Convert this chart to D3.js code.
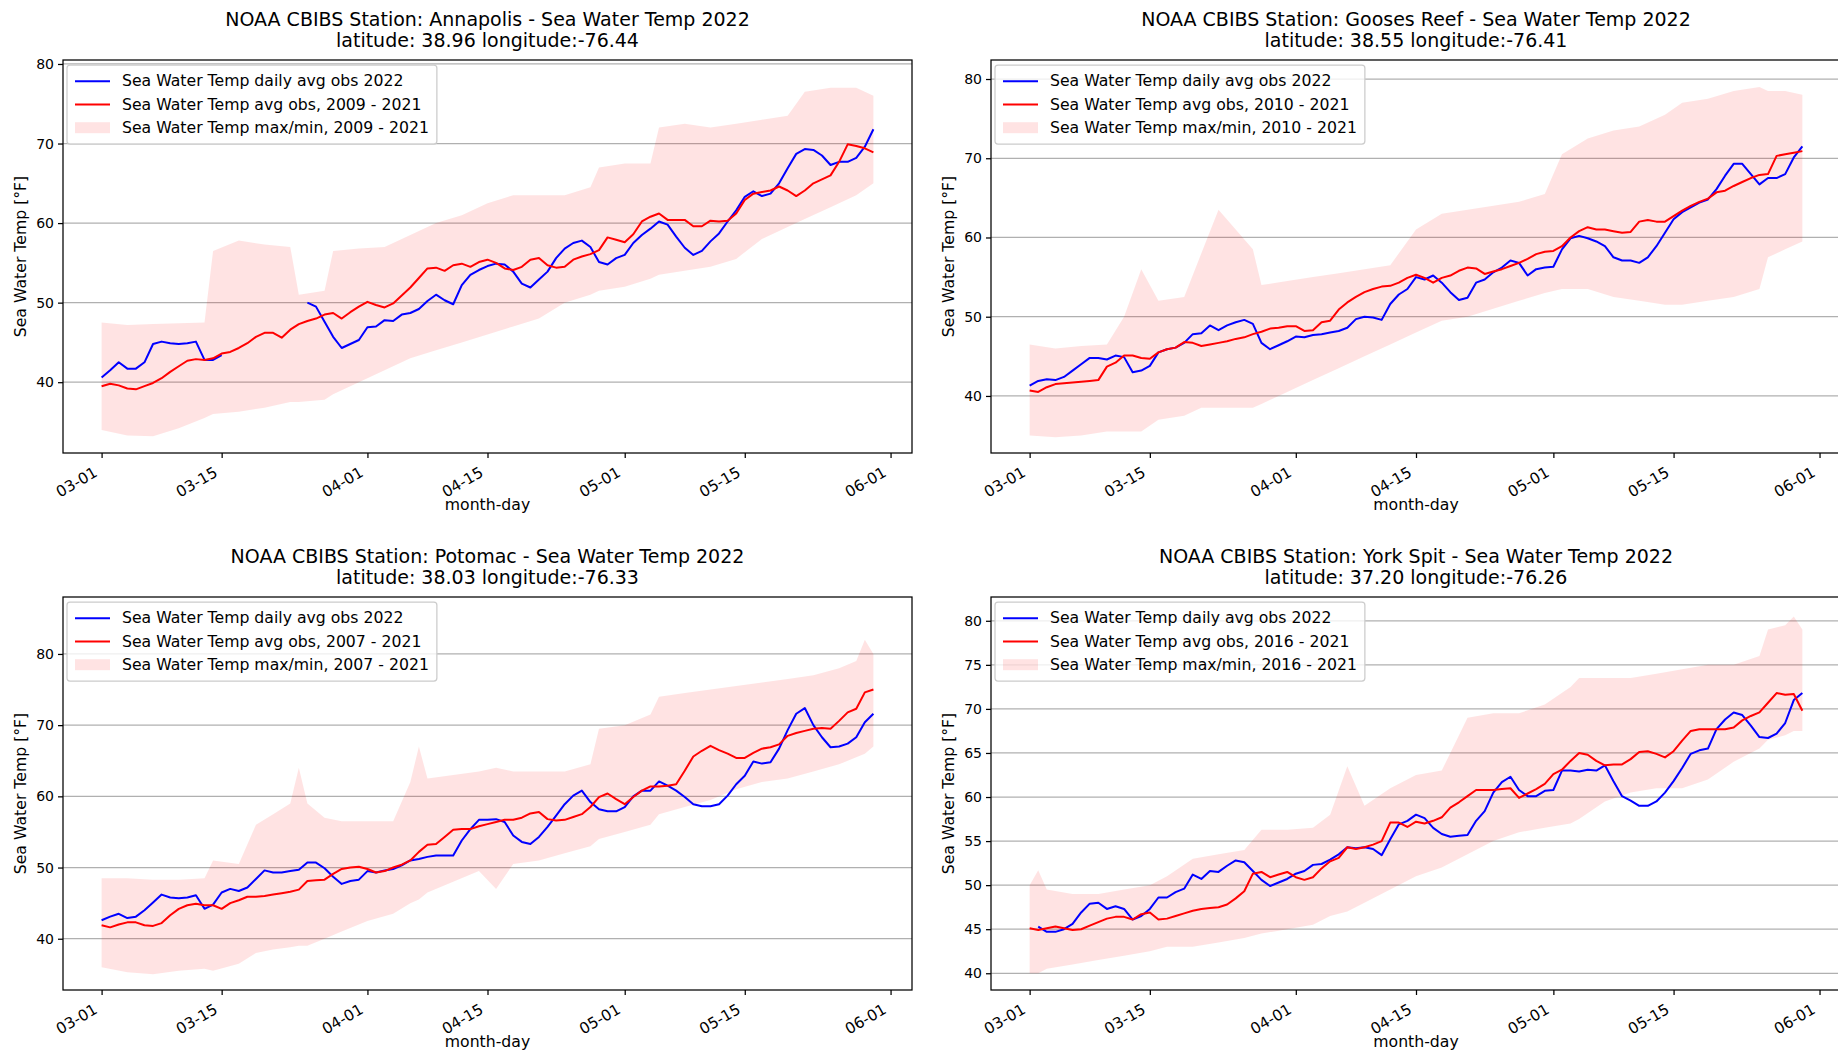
<!DOCTYPE html>
<html>
<head>
<meta charset="utf-8">
<script src="https://cdn.jsdelivr.net/npm/d3@7"></script>
<style>
  body { margin: 0; background: #fff; }
  svg { display: block; font-family: "DejaVu Sans", sans-serif; }
</style>
</head>
<body>
<div id="chart"></div>
<script>
// x categories: one value per day from 03-01 (index 0) to 05-30 (index 90)
const tickLabels = ["03-01", "03-15", "04-01", "04-15", "05-01", "05-15", "06-01"];

// ---- Annapolis ----
const annapolisObs = [
    40.6, 41.5, 42.5, 41.7, 41.7, 42.5, 44.8, 45.1, 44.9, 44.8,
    44.9, 45.1, 42.8, 42.8, 43.4, null, null, null, null, null,
    null, null, null, null, 50.0, 49.5, 47.6, 45.7, 44.3, 44.8,
    45.3, 46.9, 47.0, 47.8, 47.7, 48.5, 48.7, 49.2, 50.2, 51.0,
    50.3, 49.8, 52.2, 53.5, 54.1, 54.6, 54.9, 54.8, 53.9, 52.4,
    51.9, 52.9, 53.9, 55.6, 56.8, 57.5, 57.8, 57.0, 55.1, 54.8,
    55.6, 56.0, 57.5, 58.5, 59.3, 60.2, 59.8, 58.3, 56.9, 56.0,
    56.5, 57.7, 58.7, 60.2, 61.6, 63.3, 64.0, 63.4, 63.7, 65.0,
    66.9, 68.7, 69.3, 69.2, 68.5, 67.3, 67.7, 67.7, 68.2, 69.6,
    71.8
];
const annapolisAvg = [
    39.5, 39.8, 39.6, 39.2, 39.1, 39.5, 39.9, 40.5, 41.3, 42.0,
    42.7, 42.9, 42.8, 43.0, 43.6, 43.8, 44.3, 44.9, 45.7, 46.2,
    46.2, 45.6, 46.6, 47.3, 47.7, 48.0, 48.5, 48.7, 48.0, 48.8,
    49.5, 50.1, 49.7, 49.4, 49.9, 50.9, 51.9, 53.1, 54.3, 54.4,
    54.0, 54.7, 54.9, 54.5, 55.1, 55.4, 55.0, 54.3, 54.1, 54.5,
    55.4, 55.6, 54.7, 54.4, 54.5, 55.4, 55.8, 56.1, 56.6, 58.2,
    57.9, 57.6, 58.6, 60.2, 60.8, 61.2, 60.4, 60.4, 60.4, 59.6,
    59.6, 60.3, 60.2, 60.3, 61.2, 62.9, 63.7, 63.9, 64.1, 64.6,
    64.1, 63.4, 64.1, 65.0, 65.5, 66.0, 67.7, 69.9, 69.7, 69.4,
    68.9
];
// [day, min, max]
const annapolisBand = [
    [0, 34.0, 47.5], [3, 33.3, 47.2], [6, 33.2, 47.3], [9, 34.2, 47.4], [12, 35.5, 47.5],
    [13, 36.0, 56.5], [16, 36.3, 57.8], [19, 36.8, 57.3], [22, 37.5, 57.0], [23, 37.5, 51.0],
    [26, 37.8, 51.5], [27, 38.5, 56.5], [30, 40.0, 56.8], [33, 41.5, 57.0], [36, 43.0, 58.5],
    [39, 44.0, 60.0], [42, 45.0, 61.0], [45, 46.0, 62.5], [48, 47.0, 63.5], [51, 48.0, 63.5],
    [54, 50.0, 63.5], [57, 51.0, 64.5], [58, 51.5, 67.0], [61, 52.0, 67.5], [64, 53.0, 67.5],
    [65, 53.5, 72.0], [68, 54.0, 72.5], [71, 54.5, 72.0], [74, 55.5, 72.5], [77, 58.0, 73.0],
    [80, 59.5, 73.5], [82, 60.5, 76.5], [85, 62.0, 77.0], [88, 63.5, 77.0], [90, 65.0, 76.0]
];

// ---- Gooses Reef ----
const goosesObs = [
    41.3, 41.9, 42.1, 42.0, 42.4, 43.2, 44.0, 44.8, 44.8, 44.6,
    45.1, 44.9, 43.0, 43.2, 43.8, 45.5, 45.9, 46.1, 46.7, 47.8,
    47.9, 48.9, 48.3, 48.9, 49.3, 49.6, 49.1, 46.7, 45.9, 46.4,
    46.9, 47.5, 47.4, 47.7, 47.8, 48.0, 48.2, 48.6, 49.7, 50.0,
    49.9, 49.6, 51.6, 52.8, 53.5, 55.0, 54.7, 55.2, 54.3, 53.1,
    52.1, 52.4, 54.3, 54.7, 55.6, 56.2, 57.1, 56.8, 55.2, 56.0,
    56.2, 56.3, 58.5, 59.9, 60.2, 59.9, 59.5, 58.9, 57.5, 57.1,
    57.1, 56.8, 57.5, 58.9, 60.6, 62.3, 63.2, 63.8, 64.4, 64.8,
    66.1, 67.8, 69.3, 69.3, 68.0, 66.7, 67.5, 67.5, 68.0, 70.1,
    71.5
];
const goosesAvg = [
    40.7, 40.5, 41.1, 41.5, 41.6, 41.7, 41.8, 41.9, 42.0, 43.7,
    44.2, 45.1, 45.1, 44.8, 44.7, 45.5, 45.9, 46.1, 46.8, 46.7,
    46.3, 46.5, 46.7, 46.9, 47.2, 47.4, 47.8, 48.1, 48.5, 48.6,
    48.8, 48.8, 48.2, 48.3, 49.3, 49.5, 50.9, 51.8, 52.5, 53.1,
    53.5, 53.8, 53.9, 54.3, 54.9, 55.3, 54.9, 54.3, 54.9, 55.2,
    55.8, 56.2, 56.1, 55.4, 55.7, 56.0, 56.4, 56.8, 57.3, 57.9,
    58.2, 58.3, 58.9, 60.0, 60.8, 61.3, 61.0, 61.0, 60.8, 60.6,
    60.7, 62.0, 62.2, 62.0, 62.0, 62.7, 63.4, 64.0, 64.5, 64.9,
    65.7, 65.9, 66.5, 67.0, 67.5, 67.9, 68.0, 70.3, 70.5, 70.7,
    70.9
];
const goosesBand = [
    [0, 35.0, 46.5], [3, 34.8, 46.0], [6, 35.0, 46.3], [9, 35.5, 46.5], [11, 35.5, 50.0],
    [13, 35.5, 56.0], [15, 37.0, 52.0], [18, 37.5, 52.5], [20, 38.5, 58.0], [22, 38.5, 63.5],
    [24, 38.5, 61.0], [26, 38.5, 58.5], [27, 39.0, 54.0], [30, 40.5, 54.5], [33, 42.0, 55.0],
    [36, 43.5, 55.5], [39, 45.0, 56.0], [42, 46.5, 56.5], [45, 48.0, 61.0], [48, 49.5, 63.0],
    [51, 50.0, 63.5], [54, 51.0, 64.0], [57, 52.0, 64.5], [60, 53.0, 65.5], [62, 53.5, 70.5],
    [65, 53.5, 72.5], [68, 52.5, 73.5], [71, 52.0, 74.0], [74, 51.5, 75.5], [76, 51.5, 77.0],
    [79, 52.0, 77.5], [82, 52.5, 78.5], [85, 53.5, 79.0], [86, 57.5, 78.5], [88, 58.5, 78.5],
    [90, 59.5, 78.0]
];

// ---- Potomac ----
const potomacObs = [
    42.6, 43.1, 43.5, 42.9, 43.1, 44.0, 45.1, 46.2, 45.8, 45.7,
    45.8, 46.1, 44.2, 44.8, 46.5, 47.0, 46.7, 47.2, 48.4, 49.6,
    49.3, 49.3, 49.5, 49.7, 50.7, 50.7, 49.9, 48.7, 47.7, 48.1,
    48.3, 49.5, 49.3, 49.6, 49.8, 50.3, 51.0, 51.2, 51.5, 51.7,
    51.7, 51.7, 53.8, 55.4, 56.7, 56.7, 56.8, 56.4, 54.5, 53.6,
    53.3, 54.3, 55.7, 57.3, 58.9, 60.1, 60.8, 59.2, 58.2, 57.9,
    57.9, 58.5, 60.0, 60.8, 60.8, 62.1, 61.5, 60.8, 59.9, 58.9,
    58.6, 58.6, 58.9, 60.1, 61.7, 62.9, 64.9, 64.6, 64.8, 66.7,
    69.3, 71.6, 72.4, 70.0, 68.3, 66.9, 67.0, 67.4, 68.3, 70.4,
    71.6
];
const potomacAvg = [
    41.9, 41.6, 42.0, 42.3, 42.3, 41.9, 41.8, 42.2, 43.3, 44.2,
    44.7, 44.9, 44.7, 44.7, 44.2, 45.0, 45.4, 45.9, 45.9, 46.0,
    46.2, 46.4, 46.6, 46.9, 48.1, 48.2, 48.3, 49.1, 49.8, 50.0,
    50.1, 49.8, 49.3, 49.5, 50.0, 50.4, 51.0, 52.2, 53.2, 53.3,
    54.3, 55.3, 55.4, 55.4, 55.8, 56.1, 56.4, 56.7, 56.7, 57.0,
    57.6, 57.8, 56.8, 56.6, 56.7, 57.1, 57.5, 58.5, 59.9, 60.4,
    59.6, 58.9, 59.9, 60.8, 61.4, 61.4, 61.5, 61.7, 63.6, 65.6,
    66.4, 67.1, 66.5, 66.0, 65.4, 65.4, 66.1, 66.7, 66.9, 67.3,
    68.5, 68.9, 69.2, 69.5, 69.6, 69.5, 70.6, 71.8, 72.3, 74.6,
    75.0
];
const potomacBand = [
    [0, 36.0, 48.5], [3, 35.3, 48.5], [6, 35.0, 48.3], [9, 35.5, 48.3], [12, 35.8, 48.5],
    [13, 35.5, 51.0], [16, 36.5, 50.5], [18, 38.0, 56.0], [20, 38.5, 57.5], [22, 38.8, 59.0],
    [23, 39.0, 64.0], [24, 39.0, 59.0], [26, 40.0, 57.0], [28, 41.0, 56.5], [31, 42.5, 56.5],
    [34, 43.5, 56.5], [36, 45.0, 62.0], [37, 45.5, 67.0], [38, 46.5, 62.5], [41, 48.0, 63.0],
    [44, 49.5, 63.5], [46, 47.0, 64.0], [48, 50.5, 63.5], [51, 51.0, 63.5], [54, 52.0, 63.5],
    [57, 53.0, 64.5], [58, 54.0, 69.5], [61, 55.0, 70.0], [64, 56.0, 71.5], [65, 57.5, 74.0],
    [68, 58.5, 74.5], [71, 59.5, 75.0], [74, 61.0, 75.5], [77, 62.0, 76.0], [80, 62.5, 76.5],
    [83, 63.5, 77.0], [86, 64.5, 78.0], [88, 65.5, 79.0], [89, 66.0, 82.0], [90, 67.0, 80.0]
];

// ---- York Spit ----
const yorkObs = [
    null, 45.3, 44.7, 44.7, 45.0, 45.6, 46.9, 47.9, 48.0, 47.3,
    47.6, 47.3, 46.1, 46.5, 47.3, 48.6, 48.6, 49.2, 49.6, 51.2,
    50.7, 51.6, 51.5, 52.2, 52.8, 52.6, 51.6, 50.6, 49.9, 50.3,
    50.7, 51.3, 51.6, 52.3, 52.4, 52.9, 53.5, 54.3, 54.2, 54.3,
    54.1, 53.4, 55.2, 56.9, 57.3, 58.0, 57.6, 56.5, 55.8, 55.5,
    55.6, 55.7, 57.3, 58.4, 60.5, 61.7, 62.3, 60.8, 60.1, 60.1,
    60.7, 60.8, 63.0, 63.0, 62.9, 63.1, 63.0, 63.6, 61.8, 60.1,
    59.6, 59.0, 59.0, 59.5, 60.5, 61.8, 63.3, 64.9, 65.3, 65.5,
    67.7, 68.8, 69.6, 69.3, 68.1, 66.8, 66.7, 67.2, 68.4, 71.0,
    71.8
];
const yorkAvg = [
    45.1, 44.9, 45.1, 45.3, 45.1, 44.9, 45.0, 45.4, 45.8, 46.2,
    46.4, 46.4, 46.1, 46.7, 46.9, 46.1, 46.2, 46.5, 46.8, 47.1,
    47.3, 47.4, 47.5, 47.8, 48.5, 49.3, 51.3, 51.5, 50.9, 51.2,
    51.5, 50.9, 50.6, 50.9, 51.9, 52.7, 53.1, 54.3, 54.1, 54.3,
    54.6, 55.0, 57.1, 57.1, 56.6, 57.2, 57.0, 57.3, 57.7, 58.8,
    59.4, 60.1, 60.8, 60.8, 60.8, 60.9, 61.0, 59.9, 60.4, 60.9,
    61.5, 62.6, 63.1, 64.1, 65.0, 64.8, 64.1, 63.6, 63.7, 63.7,
    64.3, 65.1, 65.2, 64.9, 64.5, 65.2, 66.4, 67.5, 67.7, 67.7,
    67.7, 67.7, 67.9, 68.7, 69.2, 69.6, 70.7, 71.8, 71.6, 71.7,
    69.8
];
const yorkBand = [
    [0, 40.0, 50.0], [1, 40.0, 51.7], [2, 40.5, 49.5], [5, 41.0, 49.0], [8, 41.5, 49.0],
    [11, 42.0, 49.5], [14, 42.5, 50.0], [16, 43.0, 51.0], [19, 43.0, 53.0], [22, 43.5, 53.5],
    [25, 44.0, 54.0], [27, 44.5, 56.3], [30, 45.0, 56.3], [33, 45.5, 56.5], [35, 46.5, 58.0],
    [37, 47.0, 63.5], [39, 48.0, 59.0], [42, 49.5, 61.0], [45, 51.0, 62.5], [48, 52.0, 63.0],
    [51, 53.5, 69.0], [54, 55.0, 69.5], [57, 56.0, 69.5], [60, 56.5, 70.5], [63, 57.0, 72.5],
    [64, 57.5, 73.5], [67, 59.5, 73.5], [70, 60.5, 73.5], [73, 61.0, 74.0], [76, 61.0, 74.5],
    [79, 62.0, 75.0], [82, 64.0, 75.0], [85, 65.5, 76.0], [86, 66.5, 79.0], [88, 67.0, 79.5],
    [89, 67.5, 80.5], [90, 67.5, 79.0]
];

const ticks10 = [40, 50, 60, 70, 80];
const ticks5 = [40, 45, 50, 55, 60, 65, 70, 75, 80];

const stations = [
    { name: "Annapolis", lat: "38.96", lon: "-76.44", years: "2009 - 2021",
      obs: annapolisObs, avg: annapolisAvg, band: annapolisBand, yDomain: [31.1, 80.5], yTicks: ticks10 },
    { name: "Gooses Reef", lat: "38.55", lon: "-76.41", years: "2010 - 2021",
      obs: goosesObs, avg: goosesAvg, band: goosesBand, yDomain: [32.8, 82.4], yTicks: ticks10 },
    { name: "Potomac", lat: "38.03", lon: "-76.33", years: "2007 - 2021",
      obs: potomacObs, avg: potomacAvg, band: potomacBand, yDomain: [32.8, 88.0], yTicks: ticks10 },
    { name: "York Spit", lat: "37.20", lon: "-76.26", years: "2016 - 2021",
      obs: yorkObs, avg: yorkAvg, band: yorkBand, yDomain: [38.1, 82.7], yTicks: ticks5 }
];

// layout
const width = 1838;
const height = 1052;
const colLeft = [63, 991];
const colWidth = [849, 850];
const rowTop = [60, 597];
const rowHeight = 393;
const bandOpacity = 0.11;

const startDate = new Date(Date.UTC(2022, 2, 1));
const tickDates = tickLabels.map(t => new Date(Date.UTC(2022, +t.slice(0, 2) - 1, +t.slice(3))));
const dayDate = i => d3.utcDay.offset(startDate, i);

const svg = d3.select("#chart")
    .append("svg")
    .attr("width", width)
    .attr("height", height)
    .attr("viewBox", `0 0 ${width} ${height}`);

svg.append("rect").attr("width", width).attr("height", height).attr("fill", "#fff");

const drawPanel = (st, box) => {
    const xScale = d3.scaleUtc()
        .domain([d3.utcHour.offset(startDate, -4.5 * 24), d3.utcHour.offset(startDate, 94.5 * 24)])
        .range([box.left, box.left + box.width]);
    const yScale = d3.scaleLinear()
        .domain(st.yDomain)
        .range([box.top + box.height, box.top]);

    const g = svg.append("g");

    // grid (y only)
    g.append("g")
        .selectAll("line")
        .data(st.yTicks)
        .join("line")
            .attr("x1", box.left)
            .attr("x2", box.left + box.width)
            .attr("y1", d => yScale(d))
            .attr("y2", d => yScale(d))
            .attr("stroke", "#b0b0b0")
            .attr("stroke-width", 1.25);

    // max/min band
    const area = d3.area()
        .x(d => xScale(dayDate(d[0])))
        .y0(d => yScale(d[1]))
        .y1(d => yScale(d[2]));
    g.append("path")
        .datum(st.band)
        .attr("d", area)
        .attr("fill", "#ff0000")
        .attr("fill-opacity", bandOpacity);

    const lineGenerator = d3.line()
        .defined(d => d[1] != null)
        .x(d => xScale(dayDate(d[0])))
        .y(d => yScale(d[1]));

    g.append("path")
        .datum(st.obs.map((v, i) => [i, v]))
        .attr("d", lineGenerator)
        .attr("fill", "none")
        .attr("stroke", "#0000ff")
        .attr("stroke-width", 2)
        .attr("stroke-linejoin", "round");

    g.append("path")
        .datum(st.avg.map((v, i) => [i, v]))
        .attr("d", lineGenerator)
        .attr("fill", "none")
        .attr("stroke", "#ff0000")
        .attr("stroke-width", 2)
        .attr("stroke-linejoin", "round");

    // axes
    const leftAxis = d3.axisLeft(yScale).tickValues(st.yTicks).tickSize(5).tickPadding(4);
    const ya = g.append("g")
        .attr("transform", `translate(${box.left},0)`)
        .call(leftAxis);
    ya.select(".domain").remove();
    ya.attr("font-family", null).attr("font-size", null);
    ya.selectAll("line").attr("stroke", "#000").attr("stroke-width", 1.25);
    ya.selectAll("text").attr("fill", "#000").style("font-size", "14px");

    const bottomAxis = d3.axisBottom(xScale)
        .tickValues(tickDates)
        .tickFormat(d3.utcFormat("%m-%d"))
        .tickSize(5);
    const xa = g.append("g")
        .attr("transform", `translate(0,${box.top + box.height})`)
        .call(bottomAxis);
    xa.select(".domain").remove();
    xa.attr("font-family", null).attr("font-size", null);
    xa.selectAll("line").attr("stroke", "#000").attr("stroke-width", 1.25);
    xa.selectAll("text")
        .attr("fill", "#000")
        .style("font-size", "15.3px")
        .attr("text-anchor", "end")
        .attr("y", 0)
        .attr("dy", "0.71em")
        .attr("transform", "translate(-9,13) rotate(-30)");

    // spines
    g.append("rect")
        .attr("x", box.left)
        .attr("y", box.top)
        .attr("width", box.width)
        .attr("height", box.height)
        .attr("fill", "none")
        .attr("stroke", "#000")
        .attr("stroke-width", 1.25);

    // titles
    const cx = box.left + box.width / 2;
    g.append("text")
        .text(`NOAA CBIBS Station: ${st.name} - Sea Water Temp 2022`)
        .attr("x", cx).attr("y", box.top - 34)
        .attr("text-anchor", "middle")
        .style("font-size", "19px");
    g.append("text")
        .text(`latitude: ${st.lat} longitude:${st.lon}`)
        .attr("x", cx).attr("y", box.top - 13)
        .attr("text-anchor", "middle")
        .style("font-size", "19px");

    g.append("text")
        .text("month-day")
        .attr("x", cx).attr("y", box.top + box.height + 57)
        .attr("text-anchor", "middle")
        .style("font-size", "15.7px");

    g.append("text")
        .text("Sea Water Temp [°F]")
        .attr("transform", `translate(${box.left - 37},${box.top + box.height / 2}) rotate(-90)`)
        .attr("text-anchor", "middle")
        .style("font-size", "15.7px");

    // legend
    const lg = g.append("g").attr("transform", `translate(${box.left},${box.top})`);
    const frame = lg.append("rect");
    const items = [
        { label: "Sea Water Temp daily avg obs 2022", type: "line", color: "#0000ff" },
        { label: `Sea Water Temp avg obs, ${st.years}`, type: "line", color: "#ff0000" },
        { label: `Sea Water Temp max/min, ${st.years}`, type: "patch", color: "#ff0000" }
    ];
    let maxLen = 0;
    items.forEach((item, i) => {
        const cy = 21.3 + i * 23.2;
        if (item.type === "line") {
            lg.append("line")
                .attr("x1", 12).attr("x2", 47)
                .attr("y1", cy).attr("y2", cy)
                .attr("stroke", item.color)
                .attr("stroke-width", 2);
        } else {
            lg.append("rect")
                .attr("x", 12).attr("y", cy - 5.5)
                .attr("width", 35).attr("height", 11)
                .attr("fill", item.color)
                .attr("fill-opacity", bandOpacity);
        }
        const t = lg.append("text")
            .text(item.label)
            .attr("x", 59)
            .attr("y", cy)
            .attr("dy", "0.33em")
            .style("font-size", "15.7px");
        maxLen = Math.max(maxLen, t.node().getComputedTextLength());
    });
    frame
        .attr("x", 4).attr("y", 5)
        .attr("width", 59 + maxLen + 8 - 4)
        .attr("height", 79)
        .attr("rx", 3)
        .attr("fill", "#fff")
        .attr("fill-opacity", 0.8)
        .attr("stroke", "#cccccc")
        .attr("stroke-width", 1.25);
};

stations.forEach((st, i) => {
    const col = i % 2;
    const row = Math.floor(i / 2);
    drawPanel(st, { left: colLeft[col], width: colWidth[col], top: rowTop[row], height: rowHeight });
});
</script>
</body>
</html>
